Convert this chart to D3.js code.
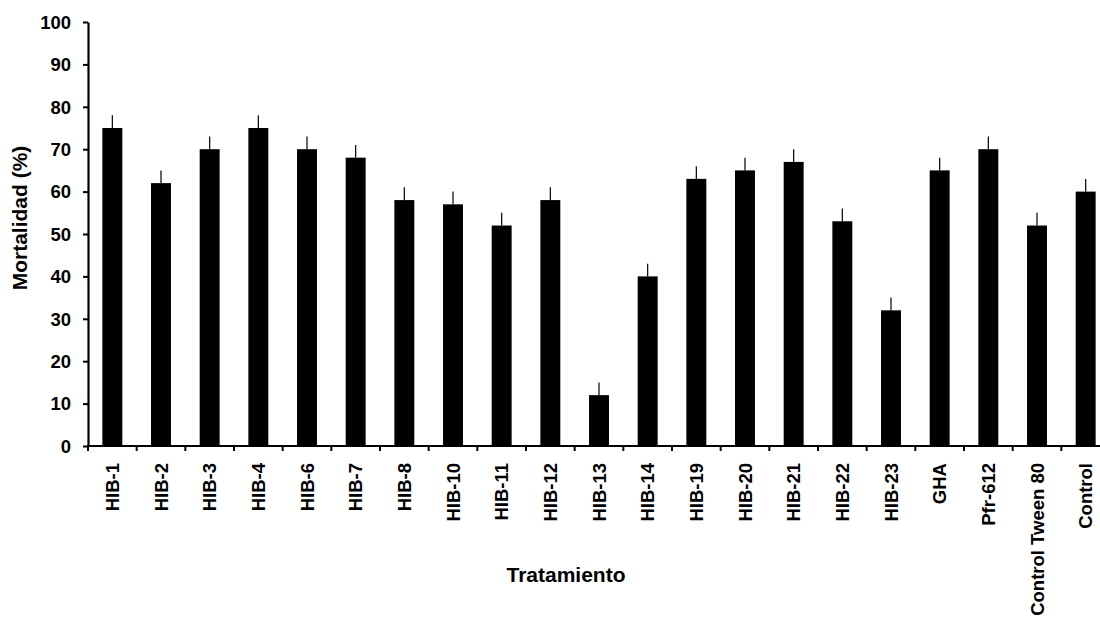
<!DOCTYPE html>
<html>
<head>
<meta charset="utf-8">
<script src="https://cdn.jsdelivr.net/npm/d3@7"></script>
<style>
  html, body { margin: 0; padding: 0; background: #fff; }
  svg { display: block; }
  text { font-family: "Liberation Sans", Arial, Helvetica, sans-serif; font-weight: bold; fill: #000; }
</style>
</head>
<body>
<svg id="chart" width="1100" height="625"></svg>
<script>
// Mortality (%) per treatment, with the standard error drawn above each bar
const treatments = ["HIB-1", "HIB-2", "HIB-3", "HIB-4", "HIB-6", "HIB-7", "HIB-8", "HIB-10",
  "HIB-11", "HIB-12", "HIB-13", "HIB-14", "HIB-19", "HIB-20", "HIB-21", "HIB-22", "HIB-23",
  "GHA", "Pfr-612", "Control Tween 80", "Control"];
const mortality = [75, 62, 70, 75, 70, 68, 58, 57, 52, 58, 12, 40, 63, 65, 67, 53, 32, 65, 70, 52, 60];
const stdError = [3, 3, 3, 3, 3, 3, 3, 3, 3, 3, 3, 3, 3, 3, 3, 3, 3, 3, 3, 3, 3];
const yTicks = [0, 10, 20, 30, 40, 50, 60, 70, 80, 90, 100];

const svg = d3.select("#chart");

const plotLeft = 88, plotBottom = 446, plotTop = 22, plotRight = 1110;

const x = d3.scaleBand().domain(treatments).range([plotLeft, plotRight]).padding(0);
const y = d3.scaleLinear().domain([0, 100]).range([plotBottom, plotTop]);

const barW = x.bandwidth() * 0.41;

const rows = treatments.map((t, i) => ({ t, v: mortality[i], e: stdError[i] }));

// bars
svg.append("g").selectAll("rect").data(rows).join("rect")
  .attr("x", d => x(d.t) + (x.bandwidth() - barW) / 2)
  .attr("y", d => y(d.v))
  .attr("width", barW)
  .attr("height", d => y(0) - y(d.v))
  .attr("fill", "#000");

// upper error whiskers
svg.append("g").selectAll("line").data(rows).join("line")
  .attr("x1", d => x(d.t) + x.bandwidth() / 2)
  .attr("x2", d => x(d.t) + x.bandwidth() / 2)
  .attr("y1", d => y(d.v))
  .attr("y2", d => y(d.v + d.e))
  .attr("stroke", "#000")
  .attr("stroke-width", 1.2);

// y axis
const yAxis = svg.append("g")
  .attr("transform", `translate(${plotLeft},0)`)
  .call(d3.axisLeft(y).tickValues(yTicks).tickSize(5).tickPadding(12).tickSizeOuter(0));
yAxis.select(".domain").attr("stroke", "#000").attr("stroke-width", 2.2);
yAxis.selectAll(".tick line").attr("stroke", "#000").attr("stroke-width", 2);
yAxis.selectAll(".tick text").style("font-size", "18.5px").attr("dy", "0.34em");

// x axis: line plus ticks on band boundaries
const xg = svg.append("g");
xg.append("line")
  .attr("x1", plotLeft - 1).attr("x2", plotRight)
  .attr("y1", plotBottom).attr("y2", plotBottom)
  .attr("stroke", "#000").attr("stroke-width", 2.2);
xg.selectAll("line.tk").data(treatments).join("line")
  .attr("class", "tk")
  .attr("x1", d => x(d)).attr("x2", d => x(d))
  .attr("y1", plotBottom).attr("y2", plotBottom + 5)
  .attr("stroke", "#000").attr("stroke-width", 2);

// category labels, rotated
xg.selectAll("text").data(treatments).join("text")
  .attr("transform", d => `translate(${x(d) + x.bandwidth() / 2},463) rotate(-90)`)
  .attr("text-anchor", "end")
  .attr("dy", "0.36em")
  .style("font-size", "18.5px")
  .text(d => d);

// axis titles
svg.append("text")
  .attr("transform", "translate(27,218) rotate(-90)")
  .attr("text-anchor", "middle")
  .style("font-size", "21px")
  .text("Mortalidad (%)");

svg.append("text")
  .attr("x", 566).attr("y", 582)
  .attr("text-anchor", "middle")
  .style("font-size", "21px")
  .text("Tratamiento");
</script>
</body>
</html>
